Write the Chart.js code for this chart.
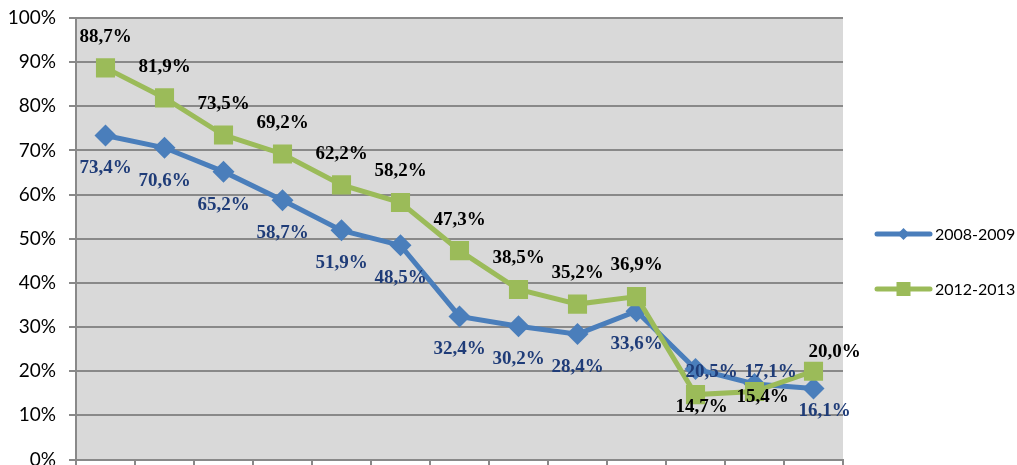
<!DOCTYPE html>
<html>
<head>
<meta charset="utf-8">
<script src="https://cdn.jsdelivr.net/npm/chart.js@4/dist/chart.umd.min.js"></script>
<style>
  html, body { margin: 0; padding: 0; background: #ffffff; overflow: hidden; }
  #wrap { width: 1017px; height: 465px; position: relative; overflow: hidden; }
</style>
</head>
<body>
<div id="wrap"><canvas id="c" width="1017" height="473"></canvas></div>
<script>
// ---- data ----
const categories = ['1','2','3','4','5','6','7','8','9','10','11','12','13'];
const seriesNames = ['2008-2009', '2012-2013'];
const values2008 = [73.4, 70.6, 65.2, 58.7, 51.9, 48.5, 32.4, 30.2, 28.4, 33.6, 20.5, 17.1, 16.1];
const values2012 = [88.7, 81.9, 73.5, 69.2, 62.2, 58.2, 47.3, 38.5, 35.2, 36.9, 14.7, 15.4, 20.0];
const yTicks = [0, 10, 20, 30, 40, 50, 60, 70, 80, 90, 100];

// ---- styling ----
const BLUE = '#4A7EBB';
const GREEN = '#9BBB59';
const LABEL_BLUE = '#1F3C78';
const GRID = '#898989';

// label offsets (dx, dy) relative to point; default below for blue, above for green
const labelOffsets = [
  { def: [0, 33], special: { 10: [16, 3], 11: [16, -12], 12: [11, 23] } },
  { def: [0, -31], special: { 10: [6, 12], 11: [8, 6], 12: [21, -19] } }
];

const fmt = v => v.toFixed(1).replace('.', ',') + '%';

const bgPlugin = {
  id: 'plotBg',
  beforeDraw(chart) {
    const { ctx, chartArea: a } = chart;
    ctx.save();
    ctx.fillStyle = '#D9D9D9';
    ctx.fillRect(a.left, a.top, a.right - a.left, a.bottom - a.top);
    ctx.restore();
  }
};

const labelPlugin = {
  id: 'valueLabels',
  afterDatasetsDraw(chart) {
    const ctx = chart.ctx;
    ctx.save();
    ctx.font = 'bold 19px "Liberation Serif", "Times New Roman", serif';
    ctx.textAlign = 'center';
    ctx.textBaseline = 'middle';
    chart.data.datasets.forEach((ds, di) => {
      const meta = chart.getDatasetMeta(di);
      const off = labelOffsets[di];
      ctx.fillStyle = di === 0 ? LABEL_BLUE : '#000000';
      meta.data.forEach((pt, i) => {
        const o = off.special[i] || off.def;
        ctx.fillText(fmt(ds.data[i]), pt.x + o[0], pt.y + o[1]);
      });
    });
    ctx.restore();
  }
};

function drawDiamond(ctx, x, y, r) {
  ctx.beginPath();
  ctx.moveTo(x, y - r); ctx.lineTo(x + r, y); ctx.lineTo(x, y + r); ctx.lineTo(x - r, y);
  ctx.closePath(); ctx.fill();
}

const legendPlugin = {
  id: 'customLegend',
  afterDraw(chart) {
    const ctx = chart.ctx;
    const x0 = 877, x1 = x0 + 53, tx = x1 + 5;
    const ys = [234, 289];
    ctx.save();
    ctx.font = '16px Lato, "Open Sans", sans-serif';
    ctx.textBaseline = 'middle';
    ctx.textAlign = 'left';
    [BLUE, GREEN].forEach((col, i) => {
      const y = ys[i];
      ctx.strokeStyle = col; ctx.lineWidth = 5; ctx.lineCap = 'round';
      ctx.beginPath(); ctx.moveTo(x0, y); ctx.lineTo(x1, y); ctx.stroke();
      ctx.fillStyle = col;
      const cx = (x0 + x1) / 2;
      if (i === 0) drawDiamond(ctx, cx, y, 6);
      else ctx.fillRect(cx - 7, y - 7, 14, 14);
      ctx.fillStyle = '#000';
      ctx.fillText(seriesNames[i], tx, y + 1);
    });
    ctx.restore();
  }
};

new Chart(document.getElementById('c'), {
  type: 'line',
  data: {
    labels: categories,
    datasets: [
      {
        label: seriesNames[0], data: values2008, order: 2,
        borderColor: BLUE, backgroundColor: BLUE, borderWidth: 5,
        pointStyle: 'rectRot', pointRadius: 11, pointHoverRadius: 11,
        pointBackgroundColor: BLUE, pointBorderWidth: 0, tension: 0
      },
      {
        label: seriesNames[1], data: values2012, order: 1,
        borderColor: GREEN, backgroundColor: GREEN, borderWidth: 5,
        pointStyle: 'rect', pointRadius: 13.5, pointHoverRadius: 13.5,
        pointBackgroundColor: GREEN, pointBorderWidth: 0, tension: 0
      }
    ]
  },
  options: {
    responsive: false,
    animation: false,
    events: [],
    layout: { padding: { top: 18, right: 174, left: 0, bottom: 0 } },
    plugins: { legend: { display: false }, tooltip: { enabled: false } },
    scales: {
      x: {
        offset: true,
        afterFit(scale) { scale.height = 7; scale.paddingLeft = 0; scale.paddingRight = 0; },
        ticks: { display: false },
        grid: { display: true, offset: true, drawOnChartArea: false, drawTicks: true, tickLength: 7, color: GRID, lineWidth: 2 },
        border: { display: true, color: GRID, width: 2 }
      },
      y: {
        min: 0, max: 100,
        afterFit(scale) { scale.width = 76; scale.paddingTop = 0; scale.paddingBottom = 0; },
        afterBuildTicks(scale) { scale.ticks = yTicks.map(v => ({ value: v })); },
        ticks: {
          callback: v => v + '%',
          color: '#000', padding: 13,
          font: { family: 'Lato, "Open Sans", sans-serif', size: 19 }
        },
        grid: { color: GRID, lineWidth: 2, tickLength: 7 },
        border: { display: true, color: GRID, width: 2 }
      }
    }
  },
  plugins: [bgPlugin, labelPlugin, legendPlugin]
});
</script>
</body>
</html>
